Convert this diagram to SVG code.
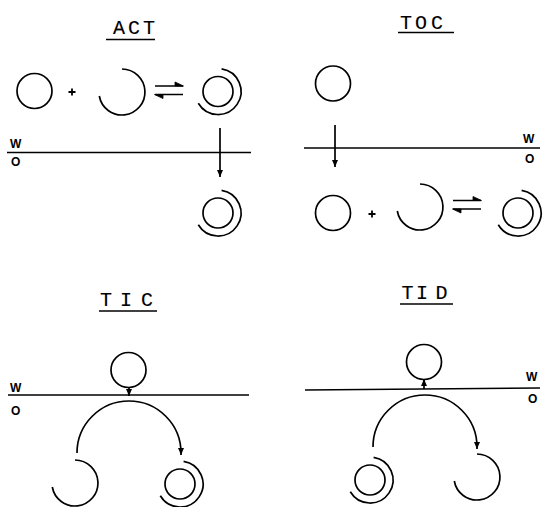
<svg xmlns="http://www.w3.org/2000/svg" width="543" height="507" viewBox="0 0 543 507">
<style>
.s{fill:none;stroke:#000;stroke-width:1.7}
.t{font-family:"Liberation Mono",monospace;font-size:20px;fill:#000;text-anchor:middle;stroke:#000;stroke-width:0.15}
.p{font-family:"Liberation Sans",Arial,sans-serif;font-size:12px;font-weight:bold;fill:#000}
.pl{fill:none;stroke:#000;stroke-width:1.8}
</style>
<defs>
<marker id="ah" markerUnits="userSpaceOnUse" markerWidth="10" markerHeight="10" refX="7" refY="3" orient="auto">
<path d="M0,0 L7,3 L0,6 Z" fill="#000"/>
</marker>
<g id="mono"><circle r="17.5" class="s"/></g>
<g id="open"><path d="M0,-23 A23,23 0 1 1 -22.7,4" class="s"/></g>
<g id="cplx"><circle r="15" class="s"/><path d="M3.6,-22.7 A23,23 0 1 1 -19.7,11.8" class="s"/></g>
<g id="eq"><path d="M0,0 H28 M0,8.5 H28" class="s"/><path d="M28.5,0 L20,-4 L20,0 Z M-0.5,8.5 L8,12.5 L8,8.5 Z" fill="#000" stroke="#000" stroke-width="0.8"/></g>
<g id="plus"><path d="M-3.5,0 H3.5 M0,-3.5 V3.5" class="pl"/></g>
</defs>

<!-- ACT -->
<g id="act-title">
<text class="t" x="119 134 149" y="34">ACT</text>
<path d="M106,39.5 H155" class="s"/>
</g>
<g id="act-interface">
<path d="M7,152.5 H251" class="s"/>
<text class="p" x="10" y="148">W</text>
<text class="p" x="11" y="166">O</text>
</g>
<g id="act-m"><use href="#mono" x="34.5" y="91"/></g>
<g id="act-plus"><use href="#plus" x="72" y="92"/></g>
<g id="act-open"><use href="#open" x="122" y="92"/></g>
<g id="act-eq"><use href="#eq" x="155" y="86"/></g>
<g id="act-c1"><use href="#cplx" x="218" y="91.5"/></g>
<g id="act-c2"><use href="#cplx" x="218" y="213"/></g>

<!-- TOC -->
<g id="toc-title">
<text class="t" x="406 421 437" y="29">TOC</text>
<path d="M398,32.5 H454" class="s"/>
</g>
<g id="toc-interface">
<path d="M304,148 H540" class="s"/>
<text class="p" x="523" y="143">W</text>
<text class="p" x="525" y="163">O</text>
</g>
<g id="toc-m1"><use href="#mono" x="333" y="83.5"/></g>
<g id="toc-m2"><use href="#mono" x="333" y="213"/></g>
<g id="toc-plus"><use href="#plus" x="372" y="214"/></g>
<g id="toc-open"><use href="#open" x="420" y="207"/></g>
<g id="toc-eq"><use href="#eq" x="453" y="200.5"/></g>
<g id="toc-c"><use href="#cplx" x="518" y="213"/></g>

<!-- TIC -->
<g id="tic-title">
<text class="t" x="106 126 147" y="305.5">TIC</text>
<path d="M99,311 H157" class="s"/>
</g>
<g id="tic-interface">
<path d="M8,395 H249" class="s"/>
<text class="p" x="10" y="392">W</text>
<text class="p" x="11" y="415">O</text>
</g>
<g id="tic-m"><use href="#mono" x="128.5" y="370"/></g>
<g id="tic-open"><use href="#open" x="75" y="483"/></g>
<g id="tic-c"><use href="#cplx" x="180" y="484"/></g>

<!-- TID -->
<g id="tid-title">
<text class="t" x="407.5 422 441.5" y="299">TID</text>
<path d="M400,304 H453" class="s"/>
</g>
<g id="tid-interface">
<path d="M305,390 L540,388" class="s"/>
<text class="p" x="526" y="381">W</text>
<text class="p" x="528" y="403">O</text>
</g>
<g id="tid-m"><use href="#mono" x="424" y="362"/></g>
<g id="tid-c"><use href="#cplx" x="370" y="480"/></g>
<g id="tid-open"><use href="#open" x="477" y="477"/></g>

<!-- connectors -->
<g id="connectors">
<path d="M220,128 V177" class="s" marker-end="url(#ah)"/>
<path d="M335,125 V167" class="s" marker-end="url(#ah)"/>
<path d="M129,387 V396" class="s" marker-end="url(#ah)"/>
<path d="M77,453 A52,52 0 0 1 181,453 L181,455" class="s" marker-end="url(#ah)"/>
<path d="M424,389 V379" class="s" marker-end="url(#ah)"/>
<path d="M373,447 A52,52 0 0 1 477,447 L477,449" class="s" marker-end="url(#ah)"/>
</g>
</svg>
